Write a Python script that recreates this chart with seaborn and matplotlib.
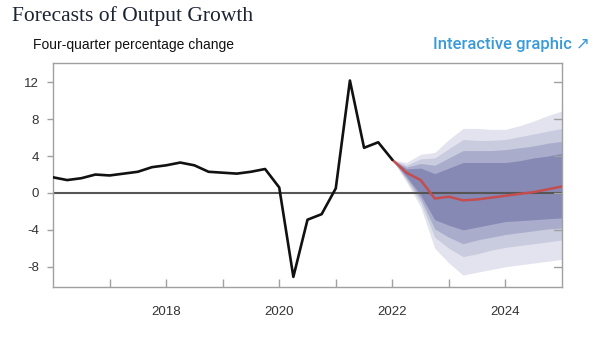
import numpy as np
import pandas as pd
import matplotlib
matplotlib.use("Agg")
import matplotlib.pyplot as plt
import seaborn as sns

# ---- data ----
hist_q = [2016.0 + 0.25 * i for i in range(25)]
hist_vals = [1.7, 1.4, 1.6, 2.0, 1.9, 2.1, 2.3, 2.8, 3.0, 3.3, 3.0, 2.3,
             2.2, 2.1, 2.3, 2.6, 0.6, -9.1, -2.9, -2.3, 0.5, 12.2, 4.9, 5.5, 3.6]

fc_q = [2022.0 + 0.25 * i for i in range(13)]
fc_median = [3.6, 2.2, 1.4, -0.6, -0.4, -0.8, -0.7, -0.5, -0.3, -0.1, 0.1, 0.4, 0.7]

band1_hi = [3.6, 3.3, 4.2, 4.4, 5.8, 7.0, 7.0, 6.9, 6.9, 7.3, 7.8, 8.4, 8.9]
band1_lo = [3.6, 1.2, -1.5, -6.0, -7.6, -8.9, -8.6, -8.3, -8.0, -7.8, -7.6, -7.4, -7.2]
band2_hi = [3.6, 3.0, 3.7, 3.8, 4.8, 5.8, 5.7, 5.7, 5.8, 6.1, 6.4, 6.7, 7.0]
band2_lo = [3.6, 1.4, -1.0, -4.8, -6.0, -6.9, -6.6, -6.2, -5.9, -5.7, -5.5, -5.3, -5.1]
band3_hi = [3.6, 2.8, 3.2, 3.0, 3.8, 4.6, 4.6, 4.6, 4.7, 4.9, 5.1, 5.4, 5.6]
band3_lo = [3.6, 1.6, -0.6, -3.9, -4.8, -5.5, -5.1, -4.8, -4.5, -4.3, -4.1, -3.9, -3.8]
band4_hi = [3.6, 2.6, 2.7, 2.1, 2.7, 3.3, 3.3, 3.3, 3.3, 3.5, 3.8, 4.0, 4.3]
band4_lo = [3.6, 1.8, -0.2, -2.9, -3.5, -4.0, -3.7, -3.4, -3.1, -3.0, -2.9, -2.8, -2.7]

y_ticks = [-8, -4, 0, 4, 8, 12]
x_label_years = [2018, 2020, 2022, 2024]
x_minor_years = list(range(2017, 2025))

title = "Forecasts of Output Growth"
subtitle = "Four-quarter percentage change"
link_text = "Interactive graphic \u2197"

# ---- plot ----
sns.set_theme(style="white")
plt.rcParams["font.family"] = ["Liberation Sans", "DejaVu Sans"]

fig = plt.figure(figsize=(6.04, 3.40), dpi=100)
ax = fig.add_axes([53 / 604, 53 / 340, (562 - 53) / 604, (287 - 63) / 340])

band_colors = ["#e2e3ee", "#c9cbde", "#a9accb", "#8689b4"]
bands = [(band1_lo, band1_hi), (band2_lo, band2_hi), (band3_lo, band3_hi), (band4_lo, band4_hi)]
for (lo, hi), c in zip(bands, band_colors):
    ax.fill_between(fc_q, lo, hi, color=c, linewidth=0, zorder=1)

ax.axhline(0, color="#555555", lw=1.5, zorder=2)

hist_df = pd.DataFrame({"q": hist_q, "v": hist_vals})
fc_df = pd.DataFrame({"q": fc_q, "v": fc_median})
sns.lineplot(data=hist_df, x="q", y="v", ax=ax, color="#111111", lw=1.9, zorder=4)
sns.lineplot(data=fc_df, x="q", y="v", ax=ax, color="#c44d50", lw=1.8, zorder=3)

ax.set_xlim(2016.0, 2025.0)
ax.set_ylim(-10.2, 14.1)
ax.set_xlabel("")
ax.set_ylabel("")

for s in ax.spines.values():
    s.set_color("#a0a0a0")
    s.set_linewidth(1.0)
    s.set_visible(True)

ax.set_yticks(y_ticks)
ax.set_yticklabels([str(t) for t in y_ticks], fontsize=9.5, color="#333333")
ax.tick_params(axis="y", which="major", direction="out", length=4, width=1,
               color="#a0a0a0", left=True, right=False, pad=6)
ax.set_xticks(x_minor_years)
ax.set_xticklabels([str(y) if y in x_label_years else "" for y in x_minor_years],
                   fontsize=9.5, color="#333333")
ax.tick_params(axis="x", direction="in", length=6, width=1, color="#a0a0a0",
               bottom=True, pad=14)

# right-side inward ticks
for t in y_ticks:
    ax.plot([1.0, 0.985], [t, t], transform=ax.get_yaxis_transform(), color="#a0a0a0",
            lw=1, clip_on=False, zorder=5)

fig.text(12 / 604, 1 - 16 / 340, title, fontsize=15.5, family=["Liberation Serif", "DejaVu Serif"],
         color="#1c2333", va="center", ha="left")
fig.text(33 / 604, 1 - 45 / 340, subtitle, fontsize=10, color="#111111", va="center", ha="left")
fig.text(590 / 604, 1 - 45 / 340, link_text, fontsize=12, color="#3a9ad9",
         family=["Roboto", "DejaVu Sans"], fontweight="medium", va="center", ha="right")

fig.savefig("out.png", dpi=100)
